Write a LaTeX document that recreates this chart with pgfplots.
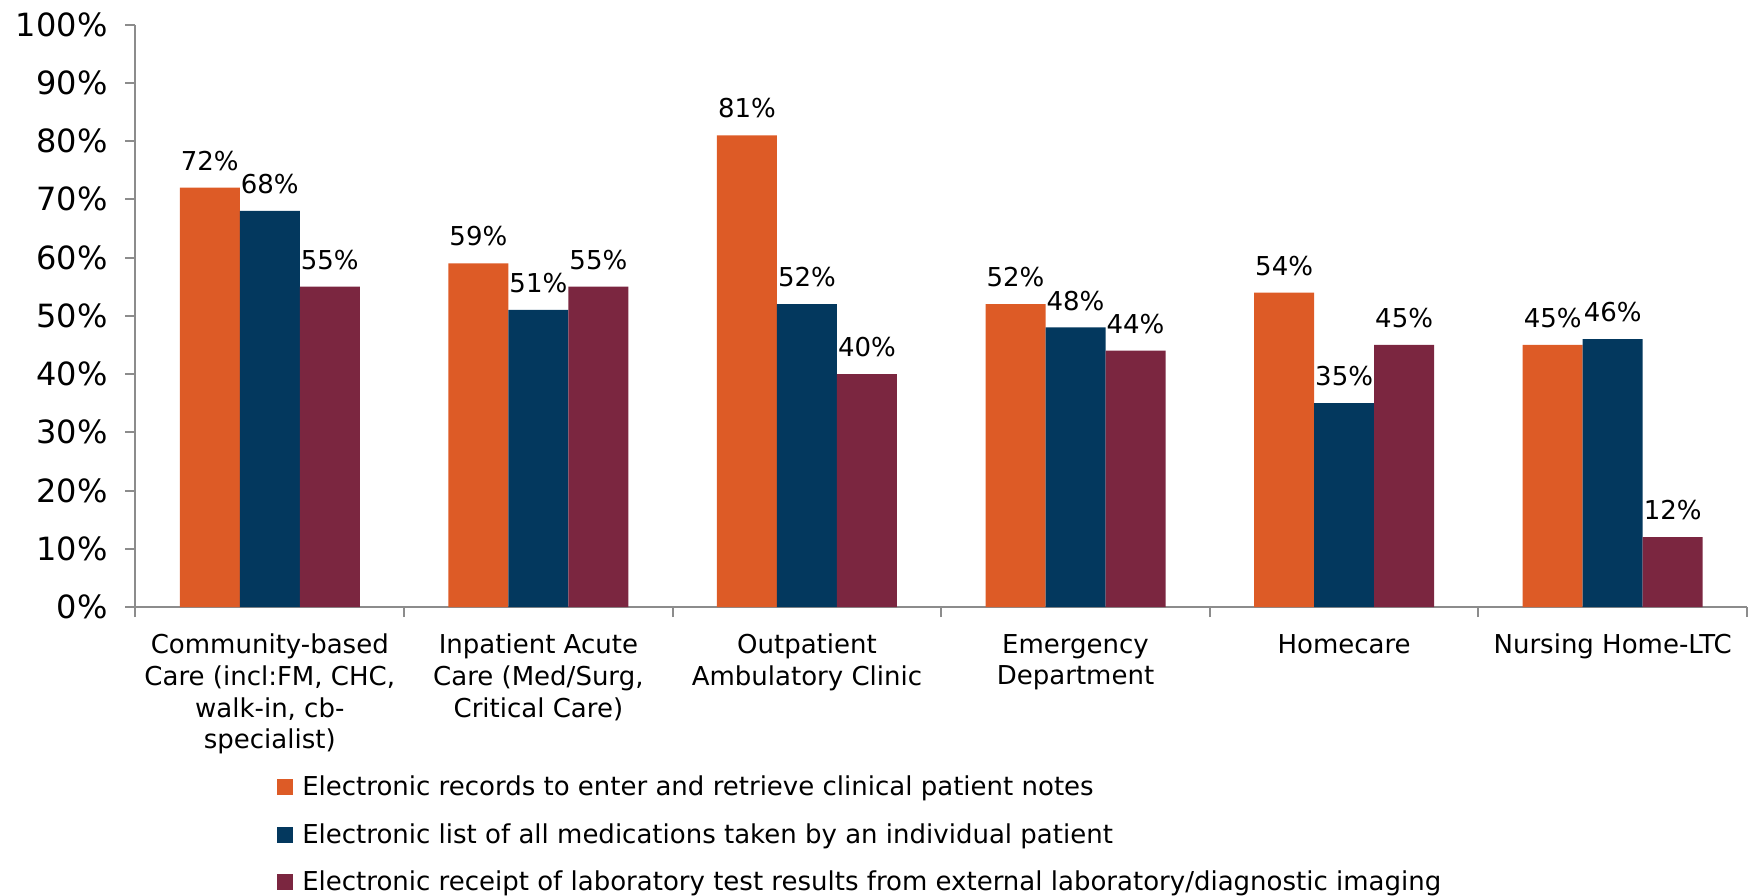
\documentclass[border=0pt]{standalone}
\usepackage{fontspec}
\setmainfont{DejaVu Sans}
\usepackage{pgfplots}
\pgfplotsset{compat=1.18}

\definecolor{cOrange}{RGB}{221,91,38}
\definecolor{cNavy}{RGB}{3,56,94}
\definecolor{cMaroon}{RGB}{123,38,64}
\definecolor{axgray}{RGB}{140,140,140}

\begin{document}
\begin{tikzpicture}
\begin{axis}[
  scale only axis,
  width=805.75pt, height=291.2pt,
  ybar=0pt, bar width=30pt,
  xmin=-0.5, xmax=5.5, ymin=0, ymax=100,
  /pgf/number format/assume math mode=true,
  xtick={0,1,2,3,4,5},
  xticklabels={
    {Community-based\\Care (incl:FM, CHC,\\walk-in, cb-\\specialist)},
    {Inpatient Acute\\Care (Med/Surg,\\Critical Care)},
    {Outpatient\\Ambulatory Clinic},
    {Emergency\\Department},
    {Homecare},
    {Nursing Home-LTC}},
  minor xtick={-0.5,0.5,1.5,2.5,3.5,4.5,5.5},
  ytick={0,10,...,100},
  yticklabel={\pgfmathprintnumber{\tick}\%},
  axis x line*=bottom, axis y line*=left,
  axis line style={axgray, line width=1pt},
  tick align=outside,
  major tick length=5pt, minor tick length=5pt,
  major x tick style={draw=none},
  minor x tick style={axgray, line width=1pt},
  y tick style={axgray, line width=1pt},
  yticklabel style={font=\fontsize{16}{19}\selectfont, text=black, xshift=-5.5pt},
  xticklabel style={font=\fontsize{13}{15.8}\selectfont, align=center, text=black, yshift=-5pt},
  nodes near coords={\pgfmathprintnumber{\pgfplotspointmeta}\%},
  every node near coord/.append style={font=\fontsize{13}{15}\selectfont, text=black, yshift=5pt},
  legend cell align=left,
  legend style={draw=none, at={(0,0)}, anchor=north west, xshift=70.6pt, yshift=-83.1pt,
    inner sep=0pt, row sep=10.5pt, nodes={inner sep=1pt},
    font=\fontsize{13}{15}\selectfont},
  legend image code/.code={\fill[#1] (0pt,-4pt) rectangle (8pt,4pt); \path (11.6pt,0pt);},
]
\addplot[fill=cOrange, draw=none] coordinates {(0,72) (1,59) (2,81) (3,52) (4,54) (5,45)};
\addplot[fill=cNavy, draw=none] coordinates {(0,68) (1,51) (2,52) (3,48) (4,35) (5,46)};
\addplot[fill=cMaroon, draw=none] coordinates {(0,55) (1,55) (2,40) (3,44) (4,45) (5,12)};
\legend{Electronic records to enter and retrieve clinical patient notes,
        Electronic list of all medications taken by an individual patient,
        Electronic receipt of laboratory test results from external laboratory/diagnostic imaging}
\path (rel axis cs:0,1) coordinate (nw) (rel axis cs:1,0) coordinate (se);
\end{axis}
\pgfresetboundingbox
\path ([xshift=-67.75pt,yshift=12.3pt]nw) rectangle ([xshift=4.5pt,yshift=-144pt]se);
\end{tikzpicture}
\end{document}
